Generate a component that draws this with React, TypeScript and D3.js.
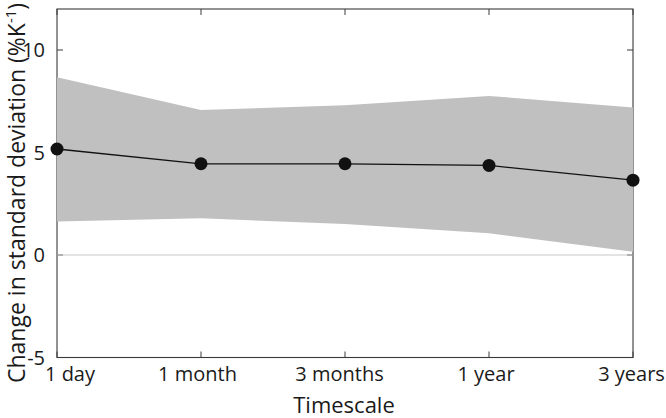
import React from "react";
import * as d3 from "d3";

const categories = ["1 day", "1 month", "3 months", "1 year", "3 years"];
const meanValues = [5.17, 4.45, 4.45, 4.37, 3.65];
const upperValues = [8.67, 7.07, 7.3, 7.76, 7.19];
const lowerValues = [1.63, 1.79, 1.51, 1.06, 0.16];
const yTicks = [-5, 0, 5, 10];

const W = 666;
const H = 418;
const left = 57;
const right = 633;
const top = 9;
const bottom = 357.5;

export default function App() {
  const x = d3.scalePoint<string>().domain(categories).range([left, right]);
  const y = d3.scaleLinear().domain([-5, 12]).range([bottom, top]);

  const rows = categories.map((c, i) => ({
    c,
    m: meanValues[i],
    u: upperValues[i],
    l: lowerValues[i],
  }));

  const area = d3
    .area<typeof rows[number]>()
    .x((d) => x(d.c)!)
    .y0((d) => y(d.l))
    .y1((d) => y(d.u));
  const line = d3
    .line<typeof rows[number]>()
    .x((d) => x(d.c)!)
    .y((d) => y(d.m));

  const font = "'Open Sans', 'DejaVu Sans', sans-serif";
  const axisColor = "#3a3a3a";
  const tickLen = 6;
  const labelDx = [13, -3.5, -5.5, -3, -1.5];

  return (
    <svg
      width={W}
      height={H}
      style={{ position: "absolute", left: 0, top: 0, background: "#fff" }}
      fontFamily={font}
    >
      <rect
        x={left}
        y={top}
        width={right - left}
        height={bottom - top}
        fill="none"
        stroke={axisColor}
        strokeWidth={1.1}
      />
      {categories.map((c) => (
        <g key={"xt" + c}>
          <line x1={x(c)} x2={x(c)} y1={bottom} y2={bottom - tickLen} stroke={axisColor} strokeWidth={1} />
          <line x1={x(c)} x2={x(c)} y1={top} y2={top + tickLen} stroke={axisColor} strokeWidth={1} />
        </g>
      ))}
      {yTicks.map((t) => (
        <g key={"yt" + t}>
          <line x1={left} x2={left + tickLen} y1={y(t)} y2={y(t)} stroke={axisColor} strokeWidth={1} />
          <line x1={right} x2={right - tickLen} y1={y(t)} y2={y(t)} stroke={axisColor} strokeWidth={1} />
        </g>
      ))}
      <path d={area(rows)!} fill="#c0c0c0" stroke="none" />
      <line x1={left} x2={right} y1={y(0)} y2={y(0)} stroke="#c8c8c8" strokeWidth={1.2} />
      <path d={line(rows)!} fill="none" stroke="#111" strokeWidth={1.3} />
      {rows.map((d) => (
        <circle key={"pt" + d.c} cx={x(d.c)} cy={y(d.m)} r={6.5} fill="#111" />
      ))}
      {yTicks.map((t) => (
        <text key={"yl" + t} x={45} y={y(t) + 7} textAnchor="end" fontSize={20} fill="#1a1a1a">
          {t}
        </text>
      ))}
      {categories.map((c, i) => (
        <text
          key={"xl" + c}
          x={x(c)! + labelDx[i]}
          y={381}
          textAnchor="middle"
          fontSize={20}
          fill="#1a1a1a"
        >
          {c}
        </text>
      ))}
      <text x={(left + right) / 2 - 1} y={413} textAnchor="middle" fontSize={22} fill="#1a1a1a">
        Timescale
      </text>
      <text transform="translate(25,383) rotate(-90)" textAnchor="start" fontSize={23} fill="#1a1a1a">
        Change in standard deviation (%K
        <tspan fontSize={15} dy={-9}>-1</tspan>
        <tspan dy={9}>)</tspan>
      </text>
    </svg>
  );
}
